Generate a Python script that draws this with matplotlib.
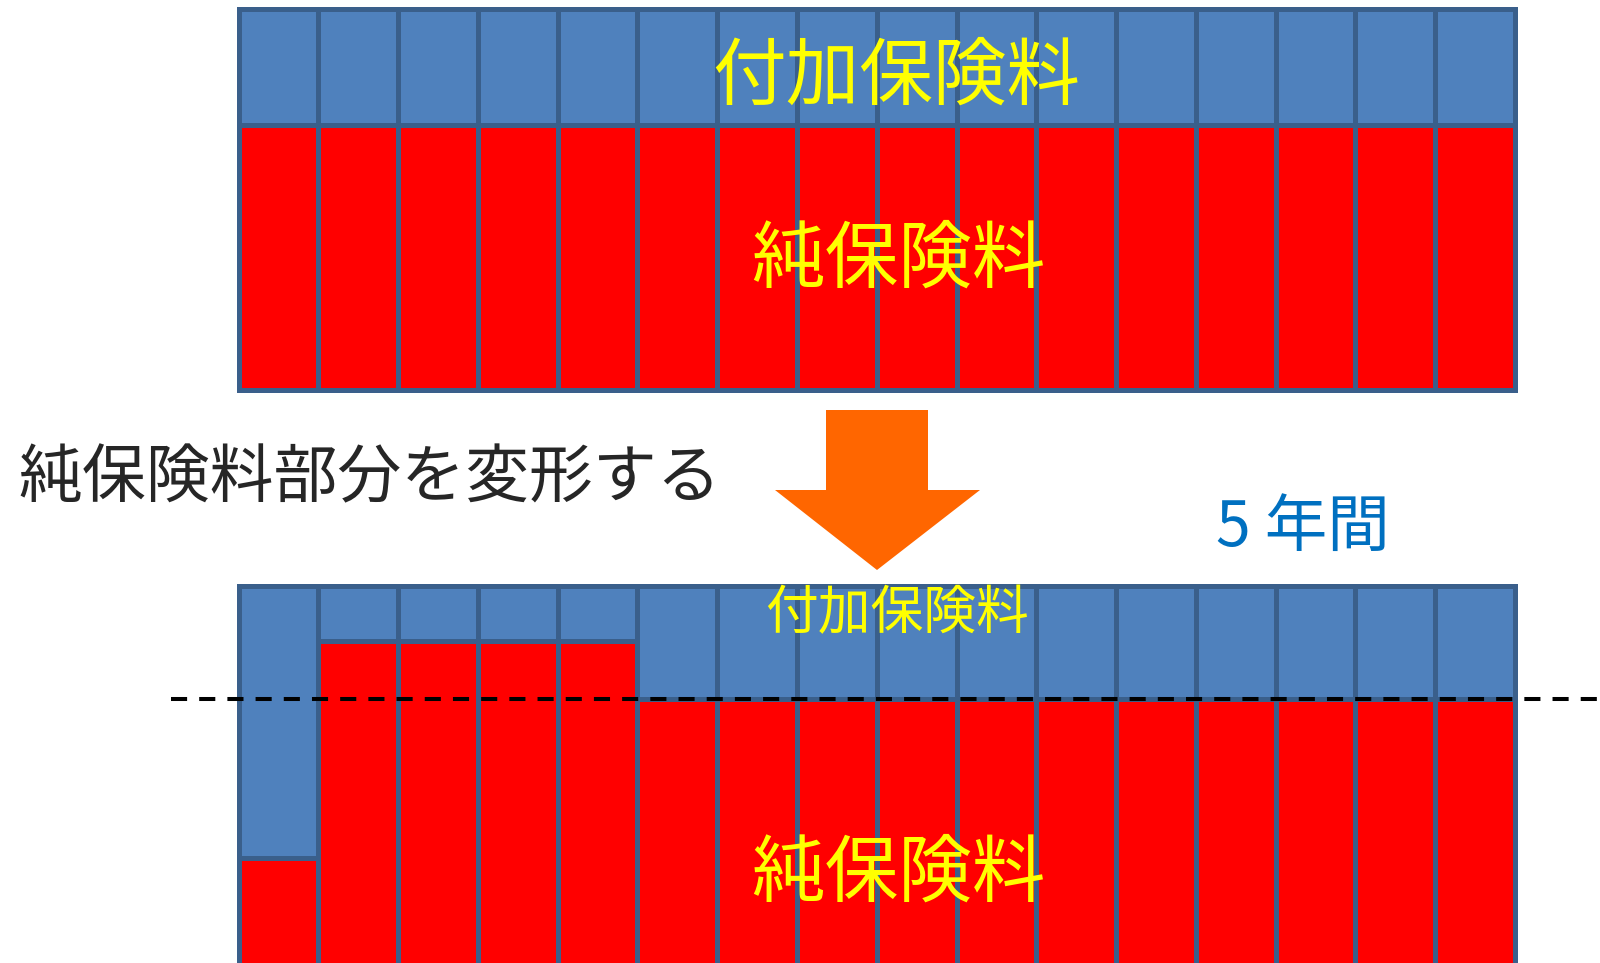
import matplotlib
matplotlib.use("Agg")
import matplotlib.pyplot as plt
from matplotlib.patches import Polygon

plt.rcParams["font.family"] = ["Noto Sans CJK JP", "DejaVu Sans"]

# Premium per policy year: pure premium (red) and loading (blue)
years = list(range(1, 17))
top_pure = [100, 100, 100, 100, 100, 100, 100, 100, 100, 100, 100, 100, 100, 100, 100, 100]
top_load = [44, 44, 44, 44, 44, 44, 44, 44, 44, 44, 44, 44, 44, 44, 44, 44]
bottom_pure = [41, 123, 123, 123, 123, 101, 101, 101, 101, 101, 101, 101, 101, 101, 101, 101]
bottom_load = [103, 21, 21, 21, 21, 43, 43, 43, 43, 43, 43, 43, 43, 43, 43, 43]

label_load = "付加保険料"
label_pure = "純保険料"
label_transform = "純保険料部分を変形する"
label_period = "5 年間"

RED = "#FF0000"
BLUE = "#4F81BD"
EDGE = "#3A5F8B"
YELLOW = "#FFFF00"

W, H = 1600, 963
fig = plt.figure(figsize=(W / 100, H / 100), dpi=100)


def fx(px):
    return px / W


def fy(py):
    return 1 - py / H


# horizontal layout of the column grid (pixels)
left_px, right_px = 238.5, 1515.0
colw = (right_px - left_px) / len(years)
xmin = 0.5 - left_px / colw
xmax = xmin + W / colw
ymax = 144
chart_h = 381


def make_axes(top_py):
    ax = fig.add_axes([0, fy(top_py + chart_h), 1, chart_h / H])
    ax.set_xlim(xmin, xmax)
    ax.set_ylim(0, ymax)
    ax.axis("off")
    return ax


def draw_stack(ax, pure, load):
    ax.bar(years, pure, width=1.0, color=RED, edgecolor=EDGE,
           linewidth=3.6, clip_on=False, zorder=2)
    ax.bar(years, load, bottom=pure, width=1.0, color=BLUE, edgecolor=EDGE,
           linewidth=3.6, clip_on=False, zorder=2)


ax_top = make_axes(9)
draw_stack(ax_top, top_pure, top_load)

ax_bot = make_axes(585.5)
draw_stack(ax_bot, bottom_pure, bottom_load)

# level reference line at the later-year pure premium
level = bottom_pure[-1]
ax_bot.plot([xmin + 171 / colw, xmax], [level, level], color="black",
            lw=2.9, linestyle=(0, (4, 3)), clip_on=False, zorder=5)

# labels
fig.text(fx(896), fy(78), label_load, fontsize=53, color=YELLOW,
         ha="center", va="center")
fig.text(fx(898), fy(261), label_pure, fontsize=53, color=YELLOW,
         ha="center", va="center")
fig.text(fx(897), fy(614), label_load, fontsize=38, color=YELLOW,
         ha="center", va="center", zorder=10)
fig.text(fx(898), fy(875), label_pure, fontsize=53, color=YELLOW,
         ha="center", va="center", zorder=10)
fig.text(fx(18), fy(479), label_transform, fontsize=46, color="#262626",
         ha="left", va="center")
fig.text(fx(1303), fy(528), label_period, fontsize=45, color="#0070C0",
         ha="center", va="center")

# downward arrow between the two charts
arrow_px = [(826, 410), (928, 410), (928, 490), (980, 490),
            (877, 570), (775, 490), (826, 490)]
fig.patches.append(Polygon([(fx(x), fy(y)) for x, y in arrow_px],
                           closed=True, facecolor="#FF6600", edgecolor="none",
                           transform=fig.transFigure, figure=fig))

fig.savefig("out.png", dpi=100)
